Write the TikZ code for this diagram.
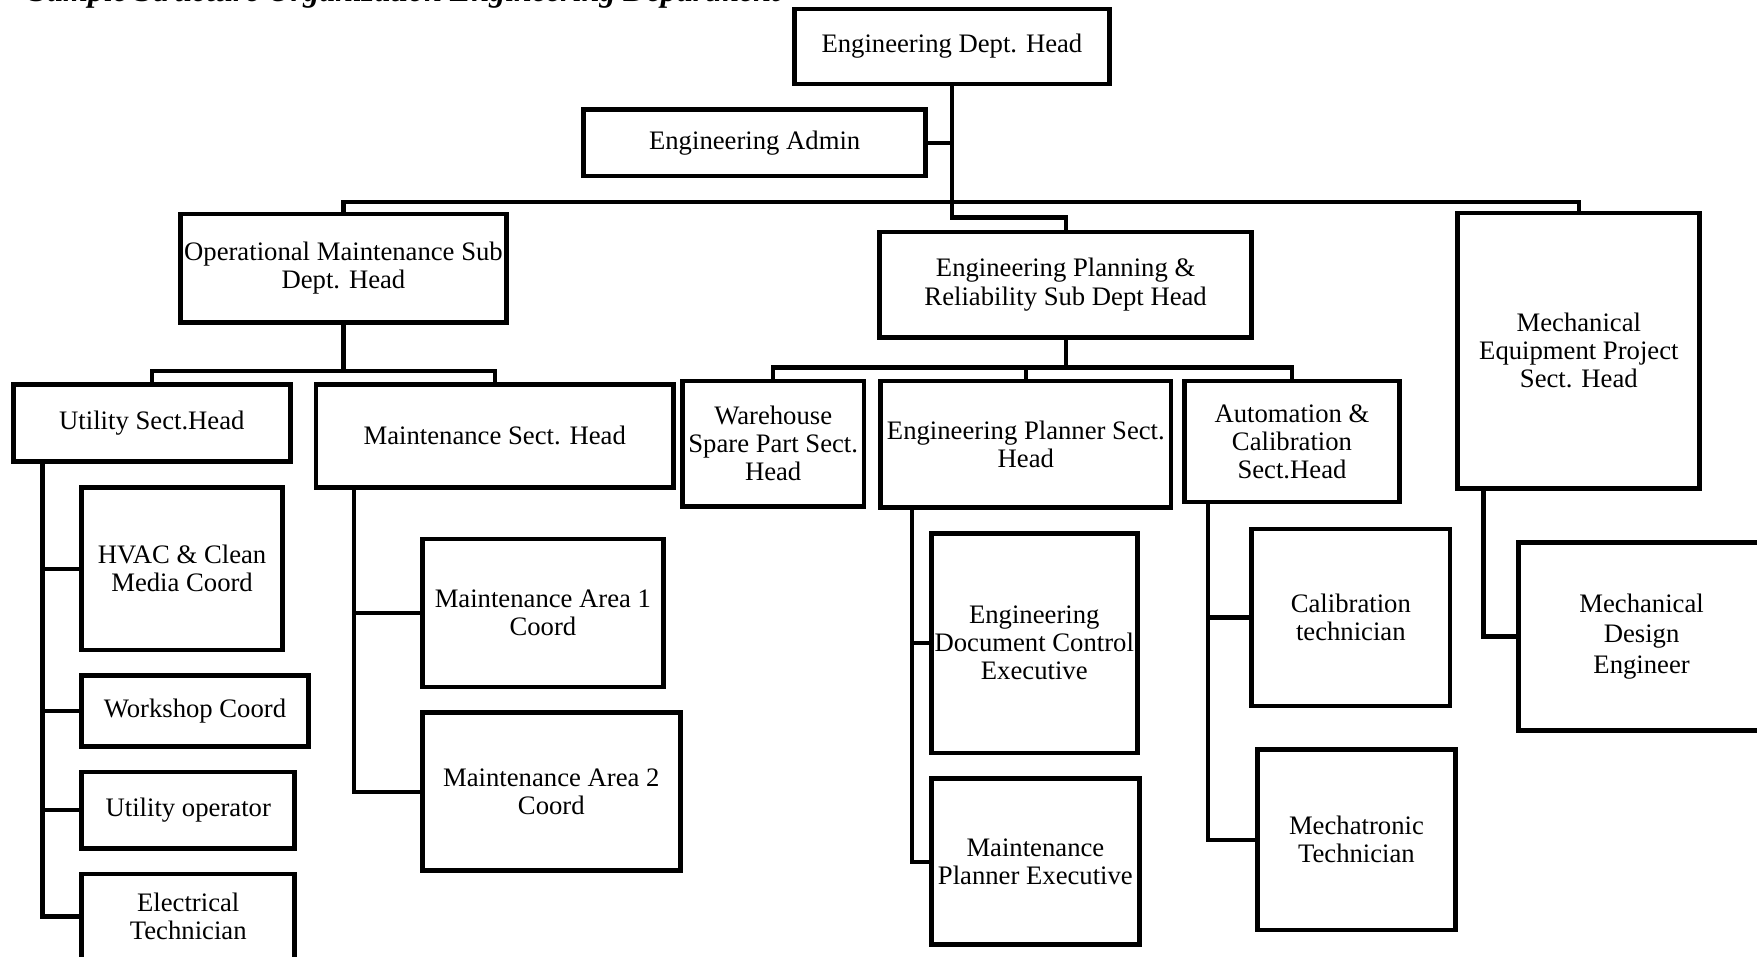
\documentclass[tikz,border=0pt]{standalone}
\usepackage{fontspec}
\setmainfont{Liberation Serif}
\begin{document}
\begin{tikzpicture}[x=0.84pt,y=-0.84pt,
  box/.style={draw, line width=3.6pt, inner sep=0pt, align=center,
    font=\fontsize{20}{21}\selectfont},
  sz/.style 2 args={minimum width=#1*0.84pt, minimum height=#2*0.84pt},
  link/.style={line width=3.2pt}]
\useasboundingbox (0,0) rectangle (1568,854);

% heading line (runs off the top edge)
\node[anchor=base west, inner sep=0pt, font=\bfseries\itshape\fontsize{24}{24}\selectfont]
  (title) at (26,0.9) {Sample Structure Organization Engineering Department};

% department level
\node[box, sz={281}{67}]  (head)  at (849.5,41.5) {Engineering Dept. Head};
\node[box, sz={305}{59}]  (admin) at (673.5,127.5) {Engineering Admin};
\node[box, sz={291}{97}]  (ops)   at (306.5,239.5) {Operational Maintenance Sub\\Dept. Head};
\node[box, sz={332}{94}]  (plan)  at (951,254) {Engineering Planning \&\\Reliability Sub Dept Head};
\node[box, sz={216}{246}] (mech)  at (1409,313) {Mechanical\\Equipment Project\\Sect. Head};

% operational maintenance branch
\node[box, sz={247}{69}]  (util)  at (135.5,377.5) {Utility Sect.Head};
\node[box, sz={319}{92}]  (maint) at (441.5,389) {Maintenance Sect. Head};
\node[box, sz={179}{145}] (hvac)  at (162.5,507.5) {HVAC \& Clean\\Media Coord};
\node[box, sz={202}{63}]  (work)  at (174,634.5) {Workshop Coord};
\node[box, sz={190}{68}]  (uop)   at (168,723) {Utility operator};
\node[box, sz={190}{76}]  (elec)  at (168,818) {Electrical\\Technician};
\node[box, sz={215}{132}] (area1) at (484.5,547) {Maintenance Area 1\\Coord};
\node[box, sz={230}{141}] (area2) at (492,706.5) {Maintenance Area 2\\Coord};

% planning & reliability branch
\node[box, sz={162}{112}] (ware)    at (690,396) {Warehouse\\Spare Part Sect.\\Head};
\node[box, sz={259}{113}] (planner) at (915.5,396.5) {Engineering Planner Sect.\\Head};
\node[box, sz={192}{108}] (auto)    at (1153,394) {Automation \&\\Calibration\\Sect.Head};
\node[box, sz={184}{196}] (doc)     at (923,574) {Engineering\\Document Control\\Executive};
\node[box, sz={186}{148}] (mplan)   at (924,769) {Maintenance\\Planner Executive};
\node[box, sz={177}{158}] (calib)   at (1205.5,551) {Calibration\\technician};
\node[box, sz={177}{161}] (mechat)  at (1210.5,749.5) {Mechatronic\\Technician};

% mechanical project branch
\node[box, sz={220}{168}, font=\fontsize{20}{23}\selectfont] (mdes) at (1465,568) {Mechanical\\Design\\Engineer};

% connectors: department head
\draw[link] (head.south) -- (head.south |- 0,194) -| (plan.north);
\draw[link] (admin.east) -- (admin.east -| head.south);
\draw[link] (ops.north) -- (ops.north |- 0,180) -| (mech.north);

% connectors: operational maintenance
\draw[link] (ops.south) -- (ops.south |- 0,331);
\draw[link] (util.north) -- (util.north |- 0,331) -| (maint.north);
\draw[link] (util.south -| 38,0) |- (elec.west);
\draw[link] (hvac.west) -- (hvac.west -| 38,0);
\draw[link] (work.west) -- (work.west -| 38,0);
\draw[link] (uop.west) -- (uop.west -| 38,0);
\draw[link] (maint.south -| 316,0) |- (area2.west);
\draw[link] (area1.west) -- (area1.west -| 316,0);

% connectors: planning & reliability
\draw[link] (plan.south) -- (plan.south |- 0,328);
\draw[link] (ware.north) -- (ware.north |- 0,328) -| (auto.north);
\draw[link] (planner.north) -- (planner.north |- 0,328);
\draw[link] (planner.south -| 814,0) |- (mplan.west);
\draw[link] (doc.west) -- (doc.west -| 814,0);
\draw[link] (auto.south -| 1078,0) |- (mechat.west);
\draw[link] (calib.west) -- (calib.west -| 1078,0);

% connectors: mechanical project
\draw[link] (mech.south -| 1324,0) |- (mdes.west);
\end{tikzpicture}
\end{document}
